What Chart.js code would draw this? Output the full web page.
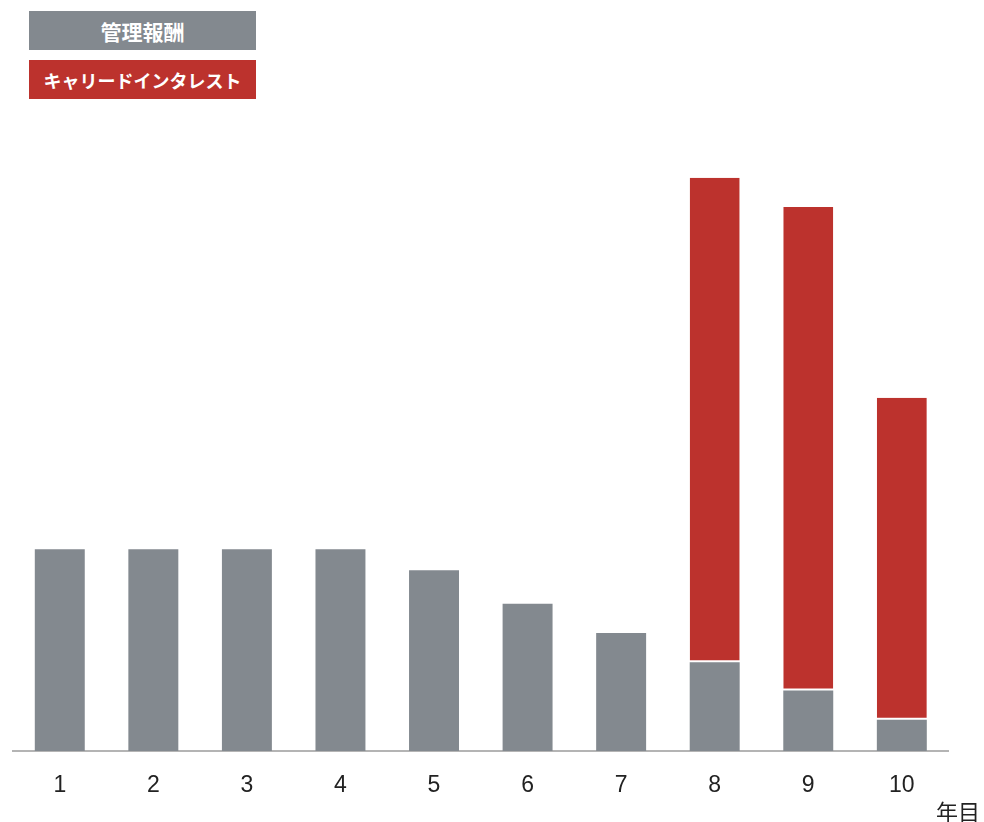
<!DOCTYPE html>
<html lang="ja">
<head>
<meta charset="utf-8">
<title>管理報酬とキャリードインタレスト</title>
<script src="https://cdn.jsdelivr.net/npm/chart.js@4.4.1/dist/chart.umd.min.js"></script>
<style>
  html, body { margin: 0; padding: 0; background: #fff; }
  #wrap { position: relative; width: 984px; height: 822px; }
  #chart { position: absolute; left: 0; top: 0; }
  .key {
    position: absolute; left: 29px; width: 227px; height: 39px;
    color: #fff; font: bold 18px "Noto Sans CJK JP", sans-serif;
    display: flex; align-items: center; justify-content: center;
  }
  #key-fee { top: 11px; background: #83898f; font-size: 21px; }
  #key-carry { top: 60px; background: #bc322d; }
  #unit {
    position: absolute; right: 4px; top: 794px;
    font: 22px "Noto Sans CJK JP", sans-serif; color: #222;
  }
</style>
</head>
<body>
<div id="wrap">
  <canvas id="chart" width="984" height="822"></canvas>
  <div class="key" id="key-fee">管理報酬</div>
  <div class="key" id="key-carry">キャリードインタレスト</div>
  <div id="unit">年目</div>
</div>
<script>
// 年目ごとの報酬内訳
const years = ['1', '2', '3', '4', '5', '6', '7', '8', '9', '10'];
const managementFee = [2.0, 2.0, 2.0, 2.0, 1.79, 1.46, 1.17, 0.88, 0.60, 0.31];
const carriedInterest = [null, null, null, null, null, null, null, 4.80, 4.79, 3.19];
const yMax = 6;

const GRAY = '#83898f';
const RED = '#bc322d';

new Chart(document.getElementById('chart'), {
  type: 'bar',
  data: {
    labels: years,
    datasets: [
      {
        label: '管理報酬',
        data: managementFee,
        backgroundColor: GRAY,
        borderWidth: 0,
        barPercentage: 0.534,
        categoryPercentage: 1
      },
      {
        label: 'キャリードインタレスト',
        data: carriedInterest,
        backgroundColor: RED,
        borderColor: '#ffffff',
        borderWidth: { top: 0, left: 0, right: 0, bottom: 2 },
        borderSkipped: false,
        barPercentage: 0.534,
        categoryPercentage: 1
      }
    ]
  },
  options: {
    responsive: false,
    animation: false,
    layout: { padding: { left: 13, right: 35.4, top: 145.5, bottom: 1.4 } },
    plugins: { legend: { display: false }, tooltip: { enabled: false } },
    scales: {
      x: {
        stacked: true,
        grid: { display: false, drawTicks: false },
        border: { display: true, color: '#b4b4b4', width: 2 },
        ticks: {
          color: '#222',
          padding: 21,
          font: { family: '"Liberation Sans", Arial, sans-serif', size: 23 }
        }
      },
      y: {
        stacked: true,
        display: false,
        min: 0,
        max: yMax
      }
    }
  }
});
</script>
</body>
</html>
